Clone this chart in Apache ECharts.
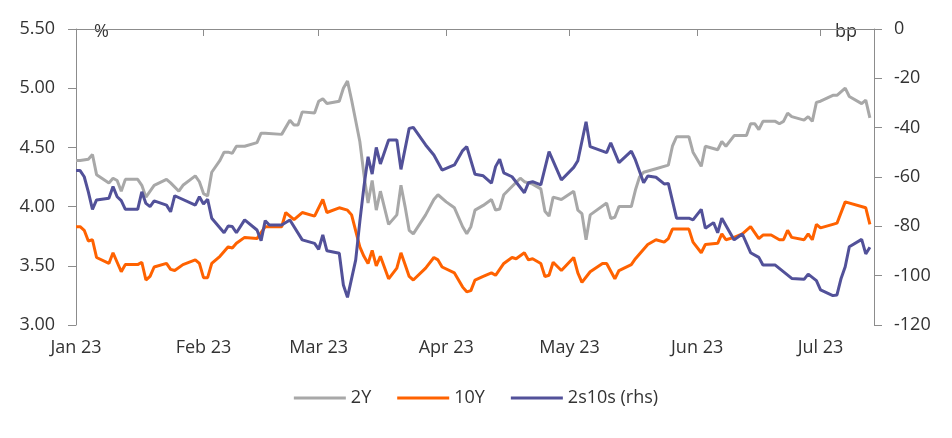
<!DOCTYPE html>
<html>
<head>
<meta charset="utf-8">
<script src="https://cdn.jsdelivr.net/npm/echarts@6/dist/echarts.min.js"></script>
<style>
  html, body { margin: 0; padding: 0; background: #fff; }
  #chart { width: 952px; height: 438px; }
</style>
</head>
<body>
<div id="chart"></div>
<script>
// 2Y yield (%), left axis
const twoY = [
  ['2023-01-01', 4.39], ['2023-01-02', 4.39], ['2023-01-04', 4.40], ['2023-01-05', 4.44],
  ['2023-01-06', 4.27], ['2023-01-09', 4.20], ['2023-01-10', 4.24], ['2023-01-11', 4.22],
  ['2023-01-12', 4.13], ['2023-01-13', 4.23], ['2023-01-16', 4.23], ['2023-01-17', 4.18],
  ['2023-01-18', 4.08], ['2023-01-20', 4.18], ['2023-01-23', 4.23], ['2023-01-24', 4.20],
  ['2023-01-26', 4.13], ['2023-01-27', 4.18], ['2023-01-30', 4.26], ['2023-01-31', 4.21],
  ['2023-02-01', 4.11], ['2023-02-02', 4.09], ['2023-02-03', 4.29], ['2023-02-05', 4.39],
  ['2023-02-06', 4.46], ['2023-02-07', 4.46], ['2023-02-08', 4.45], ['2023-02-09', 4.51],
  ['2023-02-11', 4.51], ['2023-02-14', 4.54], ['2023-02-15', 4.62], ['2023-02-16', 4.62],
  ['2023-02-20', 4.61], ['2023-02-22', 4.73], ['2023-02-23', 4.69], ['2023-02-24', 4.69],
  ['2023-02-25', 4.80], ['2023-02-28', 4.79], ['2023-03-01', 4.89], ['2023-03-02', 4.91],
  ['2023-03-03', 4.87], ['2023-03-06', 4.89], ['2023-03-07', 5.00], ['2023-03-08', 5.06],
  ['2023-03-09', 4.90], ['2023-03-11', 4.55], ['2023-03-12', 4.27], ['2023-03-13', 4.03],
  ['2023-03-14', 4.22], ['2023-03-15', 3.97], ['2023-03-16', 4.13], ['2023-03-18', 3.85],
  ['2023-03-20', 3.93], ['2023-03-21', 4.18], ['2023-03-22', 4.00], ['2023-03-23', 3.80],
  ['2023-03-24', 3.77], ['2023-03-27', 3.93], ['2023-03-29', 4.06], ['2023-03-30', 4.10],
  ['2023-04-01', 4.04], ['2023-04-03', 3.99], ['2023-04-05', 3.83], ['2023-04-06', 3.77],
  ['2023-04-07', 3.83], ['2023-04-08', 3.97], ['2023-04-10', 4.01], ['2023-04-12', 4.06],
  ['2023-04-13', 3.97], ['2023-04-14', 3.98], ['2023-04-15', 4.10], ['2023-04-17', 4.17],
  ['2023-04-19', 4.24], ['2023-04-20', 4.21], ['2023-04-22', 4.19], ['2023-04-24', 4.15],
  ['2023-04-25', 3.96], ['2023-04-26', 3.92], ['2023-04-27', 4.08], ['2023-04-29', 4.06],
  ['2023-05-02', 4.13], ['2023-05-03', 3.97], ['2023-05-04', 3.94], ['2023-05-05', 3.72],
  ['2023-05-06', 3.93], ['2023-05-10', 4.03], ['2023-05-11', 3.90], ['2023-05-12', 3.91],
  ['2023-05-13', 4.00], ['2023-05-16', 4.00], ['2023-05-17', 4.14], ['2023-05-18', 4.25],
  ['2023-05-19', 4.29], ['2023-05-22', 4.32], ['2023-05-25', 4.35], ['2023-05-26', 4.51],
  ['2023-05-27', 4.59], ['2023-05-30', 4.59], ['2023-05-31', 4.46], ['2023-06-02', 4.34],
  ['2023-06-03', 4.51], ['2023-06-06', 4.48], ['2023-06-07', 4.55], ['2023-06-08', 4.51],
  ['2023-06-10', 4.60], ['2023-06-13', 4.60], ['2023-06-14', 4.70], ['2023-06-15', 4.70],
  ['2023-06-16', 4.65], ['2023-06-17', 4.72], ['2023-06-20', 4.72], ['2023-06-21', 4.70],
  ['2023-06-22', 4.72], ['2023-06-23', 4.79], ['2023-06-24', 4.76], ['2023-06-27', 4.73],
  ['2023-06-28', 4.76], ['2023-06-29', 4.72], ['2023-06-30', 4.88], ['2023-07-01', 4.89],
  ['2023-07-04', 4.94], ['2023-07-05', 4.94], ['2023-07-07', 5.00], ['2023-07-08', 4.93],
  ['2023-07-11', 4.87], ['2023-07-12', 4.90], ['2023-07-13', 4.75]
];

// 10Y yield (%), left axis
const tenY = [
  ['2023-01-01', 3.83], ['2023-01-02', 3.83], ['2023-01-03', 3.80], ['2023-01-04', 3.71],
  ['2023-01-05', 3.72], ['2023-01-06', 3.57], ['2023-01-09', 3.52], ['2023-01-10', 3.61],
  ['2023-01-11', 3.53], ['2023-01-12', 3.45], ['2023-01-13', 3.51], ['2023-01-16', 3.51],
  ['2023-01-17', 3.53], ['2023-01-18', 3.38], ['2023-01-19', 3.41], ['2023-01-20', 3.49],
  ['2023-01-23', 3.52], ['2023-01-24', 3.47], ['2023-01-25', 3.46], ['2023-01-27', 3.51],
  ['2023-01-30', 3.55], ['2023-01-31', 3.52], ['2023-02-01', 3.40], ['2023-02-02', 3.40],
  ['2023-02-03', 3.52], ['2023-02-05', 3.58], ['2023-02-07', 3.66], ['2023-02-08', 3.65],
  ['2023-02-09', 3.69], ['2023-02-11', 3.74], ['2023-02-14', 3.73], ['2023-02-16', 3.83],
  ['2023-02-20', 3.83], ['2023-02-21', 3.95], ['2023-02-23', 3.89], ['2023-02-25', 3.95],
  ['2023-02-28', 3.92], ['2023-03-02', 4.06], ['2023-03-03', 3.95], ['2023-03-06', 3.99],
  ['2023-03-08', 3.97], ['2023-03-09', 3.93], ['2023-03-11', 3.66], ['2023-03-12', 3.58],
  ['2023-03-13', 3.52], ['2023-03-14', 3.63], ['2023-03-15', 3.50], ['2023-03-16', 3.58],
  ['2023-03-18', 3.39], ['2023-03-20', 3.48], ['2023-03-21', 3.61], ['2023-03-22', 3.51],
  ['2023-03-23', 3.41], ['2023-03-24', 3.38], ['2023-03-27', 3.48], ['2023-03-29', 3.57],
  ['2023-03-30', 3.55], ['2023-03-31', 3.49], ['2023-04-03', 3.44], ['2023-04-05', 3.32],
  ['2023-04-06', 3.28], ['2023-04-07', 3.29], ['2023-04-08', 3.38], ['2023-04-10', 3.41],
  ['2023-04-12', 3.44], ['2023-04-13', 3.42], ['2023-04-15', 3.52], ['2023-04-17', 3.57],
  ['2023-04-18', 3.56], ['2023-04-20', 3.61], ['2023-04-21', 3.55], ['2023-04-22', 3.56],
  ['2023-04-24', 3.52], ['2023-04-25', 3.41], ['2023-04-26', 3.42], ['2023-04-27', 3.53],
  ['2023-04-29', 3.46], ['2023-05-02', 3.57], ['2023-05-03', 3.44], ['2023-05-04', 3.36],
  ['2023-05-06', 3.45], ['2023-05-09', 3.52], ['2023-05-10', 3.52], ['2023-05-12', 3.39],
  ['2023-05-13', 3.46], ['2023-05-16', 3.51], ['2023-05-17', 3.56], ['2023-05-20', 3.68],
  ['2023-05-22', 3.72], ['2023-05-24', 3.70], ['2023-05-25', 3.73], ['2023-05-26', 3.81],
  ['2023-05-30', 3.81], ['2023-05-31', 3.70], ['2023-06-02', 3.61], ['2023-06-03', 3.68],
  ['2023-06-06', 3.69], ['2023-06-07', 3.77], ['2023-06-08', 3.72], ['2023-06-10', 3.74],
  ['2023-06-12', 3.77], ['2023-06-14', 3.83], ['2023-06-16', 3.73], ['2023-06-17', 3.76],
  ['2023-06-19', 3.76], ['2023-06-21', 3.72], ['2023-06-22', 3.72], ['2023-06-23', 3.80],
  ['2023-06-24', 3.74], ['2023-06-27', 3.72], ['2023-06-28', 3.77], ['2023-06-29', 3.72],
  ['2023-06-30', 3.85], ['2023-07-01', 3.82], ['2023-07-04', 3.85], ['2023-07-05', 3.86],
  ['2023-07-07', 4.04], ['2023-07-12', 3.99], ['2023-07-13', 3.85]
];

// 2s10s spread (bp), right axis
const spread = [
  ['2023-01-01', -57.4], ['2023-01-02', -57.4], ['2023-01-03', -59.9], ['2023-01-04', -66.0],
  ['2023-01-05', -73.1], ['2023-01-06', -69.3], ['2023-01-09', -68.6], ['2023-01-10', -63.9],
  ['2023-01-11', -68.0], ['2023-01-12', -69.6], ['2023-01-13', -73.1], ['2023-01-16', -73.1],
  ['2023-01-17', -66.0], ['2023-01-18', -70.7], ['2023-01-19', -72.0], ['2023-01-20', -69.7],
  ['2023-01-23', -71.4], ['2023-01-24', -74.1], ['2023-01-25', -67.6], ['2023-01-30', -71.4],
  ['2023-01-31', -68.0], ['2023-02-01', -70.9], ['2023-02-02', -69.0], ['2023-02-03', -76.7],
  ['2023-02-06', -82.6], ['2023-02-07', -79.9], ['2023-02-08', -80.1], ['2023-02-09', -82.6],
  ['2023-02-11', -77.4], ['2023-02-14', -81.5], ['2023-02-15', -85.8], ['2023-02-16', -77.7],
  ['2023-02-17', -79.5], ['2023-02-20', -79.5], ['2023-02-22', -77.4], ['2023-02-25', -85.5],
  ['2023-02-28', -86.9], ['2023-03-01', -89.3], ['2023-03-02', -83.5], ['2023-03-03', -89.9],
  ['2023-03-06', -90.9], ['2023-03-07', -103.8], ['2023-03-08', -108.8], ['2023-03-10', -93.6],
  ['2023-03-11', -78.1], ['2023-03-12', -63.9], ['2023-03-13', -51.8], ['2023-03-14', -58.8],
  ['2023-03-15', -48.0], ['2023-03-16', -54.7], ['2023-03-18', -45.0], ['2023-03-20', -45.0],
  ['2023-03-21', -56.9], ['2023-03-23', -40.3], ['2023-03-24', -39.9], ['2023-03-27', -47.0],
  ['2023-03-29', -51.1], ['2023-03-31', -57.2], ['2023-04-03', -55.1], ['2023-04-05', -49.3],
  ['2023-04-06', -47.7], ['2023-04-08', -58.9], ['2023-04-10', -59.5], ['2023-04-12', -62.5],
  ['2023-04-13', -55.8], ['2023-04-14', -52.8], ['2023-04-15', -58.3], ['2023-04-17', -59.9],
  ['2023-04-20', -66.4], ['2023-04-21', -62.3], ['2023-04-22', -61.9], ['2023-04-24', -63.2],
  ['2023-04-26', -49.7], ['2023-04-29', -61.2], ['2023-05-02', -56.1], ['2023-05-03', -53.4],
  ['2023-05-05', -37.6], ['2023-05-06', -47.7], ['2023-05-10', -50.1], ['2023-05-11', -46.1],
  ['2023-05-13', -54.2], ['2023-05-16', -49.5], ['2023-05-17', -53.1], ['2023-05-19', -62.3],
  ['2023-05-20', -59.6], ['2023-05-22', -60.1], ['2023-05-24', -62.8], ['2023-05-25', -62.6],
  ['2023-05-27', -76.7], ['2023-05-30', -76.7], ['2023-05-31', -77.4], ['2023-06-02', -73.1],
  ['2023-06-03', -80.8], ['2023-06-05', -78.5], ['2023-06-06', -82.6], ['2023-06-07', -76.7],
  ['2023-06-10', -85.5], ['2023-06-12', -83.1], ['2023-06-14', -90.7], ['2023-06-16', -92.6],
  ['2023-06-17', -95.7], ['2023-06-20', -95.7], ['2023-06-24', -101.1], ['2023-06-27', -101.5],
  ['2023-06-28', -99.4], ['2023-06-30', -102.0], ['2023-07-01', -105.8], ['2023-07-04', -108.1],
  ['2023-07-05', -107.8], ['2023-07-06', -101.1], ['2023-07-07', -96.4], ['2023-07-08', -88.3],
  ['2023-07-11', -85.3], ['2023-07-12', -91.2], ['2023-07-13', -88.5]
];

const monthNames = ['Jan', 'Feb', 'Mar', 'Apr', 'May', 'Jun', 'Jul', 'Aug', 'Sep', 'Oct', 'Nov', 'Dec'];

const textColor = '#333333';
const axisColor = '#8c8c8c';
const font = '"Open Sans", Lato, sans-serif';

const chart = echarts.init(document.getElementById('chart'));

chart.setOption({
  animation: false,
  textStyle: { fontFamily: font },
  grid: { left: 76, right: 78, top: 29, bottom: 113, containLabel: false },
  legend: {
    bottom: 26,
    left: 'center',
    itemWidth: 52,
    itemHeight: 3,
    itemGap: 26,
    icon: 'rect',
    textStyle: { color: textColor, fontSize: 18, fontFamily: font },
    data: ['2Y', '10Y', '2s10s (rhs)']
  },
  xAxis: {
    type: 'time',
    min: '2023-01-01',
    max: '2023-07-14',
    minInterval: 28 * 24 * 3600 * 1000,
    axisLine: { lineStyle: { color: axisColor, width: 1 } },
    axisTick: { show: true, length: 7, lineStyle: { color: axisColor } },
    splitLine: { show: false },
    axisLabel: {
      color: textColor,
      fontSize: 18,
      margin: 14,
      hideOverlap: false,
      formatter: function (val) {
        let d = new Date(val);
        return monthNames[d.getMonth()] + ' 23';
      }
    }
  },
  yAxis: [
    {
      // 左轴 %
      type: 'value',
      min: 3,
      max: 5.5,
      interval: 0.5,
      name: '%',
      nameLocation: 'end',
      nameGap: -12,
      nameTextStyle: { color: textColor, fontSize: 18, align: 'left', padding: [0, 0, 0, 18] },
      axisLine: { show: true, lineStyle: { color: axisColor } },
      axisTick: { show: true, inside: false, length: 8, lineStyle: { color: axisColor } },
      splitLine: { show: false },
      axisLabel: {
        color: textColor,
        fontSize: 18,
        margin: 21,
        formatter: v => v.toFixed(2)
      }
    },
    {
      // 右轴 bp
      type: 'value',
      min: -120,
      max: 0,
      interval: 20,
      position: 'right',
      name: 'bp',
      nameLocation: 'end',
      nameGap: -12,
      nameTextStyle: { color: textColor, fontSize: 18, align: 'right', padding: [0, 17, 0, 0] },
      axisLine: { show: true, lineStyle: { color: axisColor } },
      axisTick: { show: true, inside: false, length: 8, lineStyle: { color: axisColor } },
      splitLine: { show: false },
      axisLabel: {
        color: textColor,
        fontSize: 18,
        margin: 20
      }
    }
  ],
  series: [
    {
      name: '2Y',
      type: 'line',
      yAxisIndex: 0,
      data: twoY,
      showSymbol: false,
      symbol: 'none',
      lineStyle: { color: '#a8a8a8', width: 3 },
      itemStyle: { color: '#a8a8a8' }
    },
    {
      name: '10Y',
      type: 'line',
      yAxisIndex: 0,
      data: tenY,
      showSymbol: false,
      symbol: 'none',
      lineStyle: { color: '#ff6200', width: 3 },
      itemStyle: { color: '#ff6200' }
    },
    {
      name: '2s10s (rhs)',
      type: 'line',
      yAxisIndex: 1,
      data: spread,
      showSymbol: false,
      symbol: 'none',
      lineStyle: { color: '#525199', width: 3 },
      itemStyle: { color: '#525199' }
    }
  ]
});
</script>
</body>
</html>
